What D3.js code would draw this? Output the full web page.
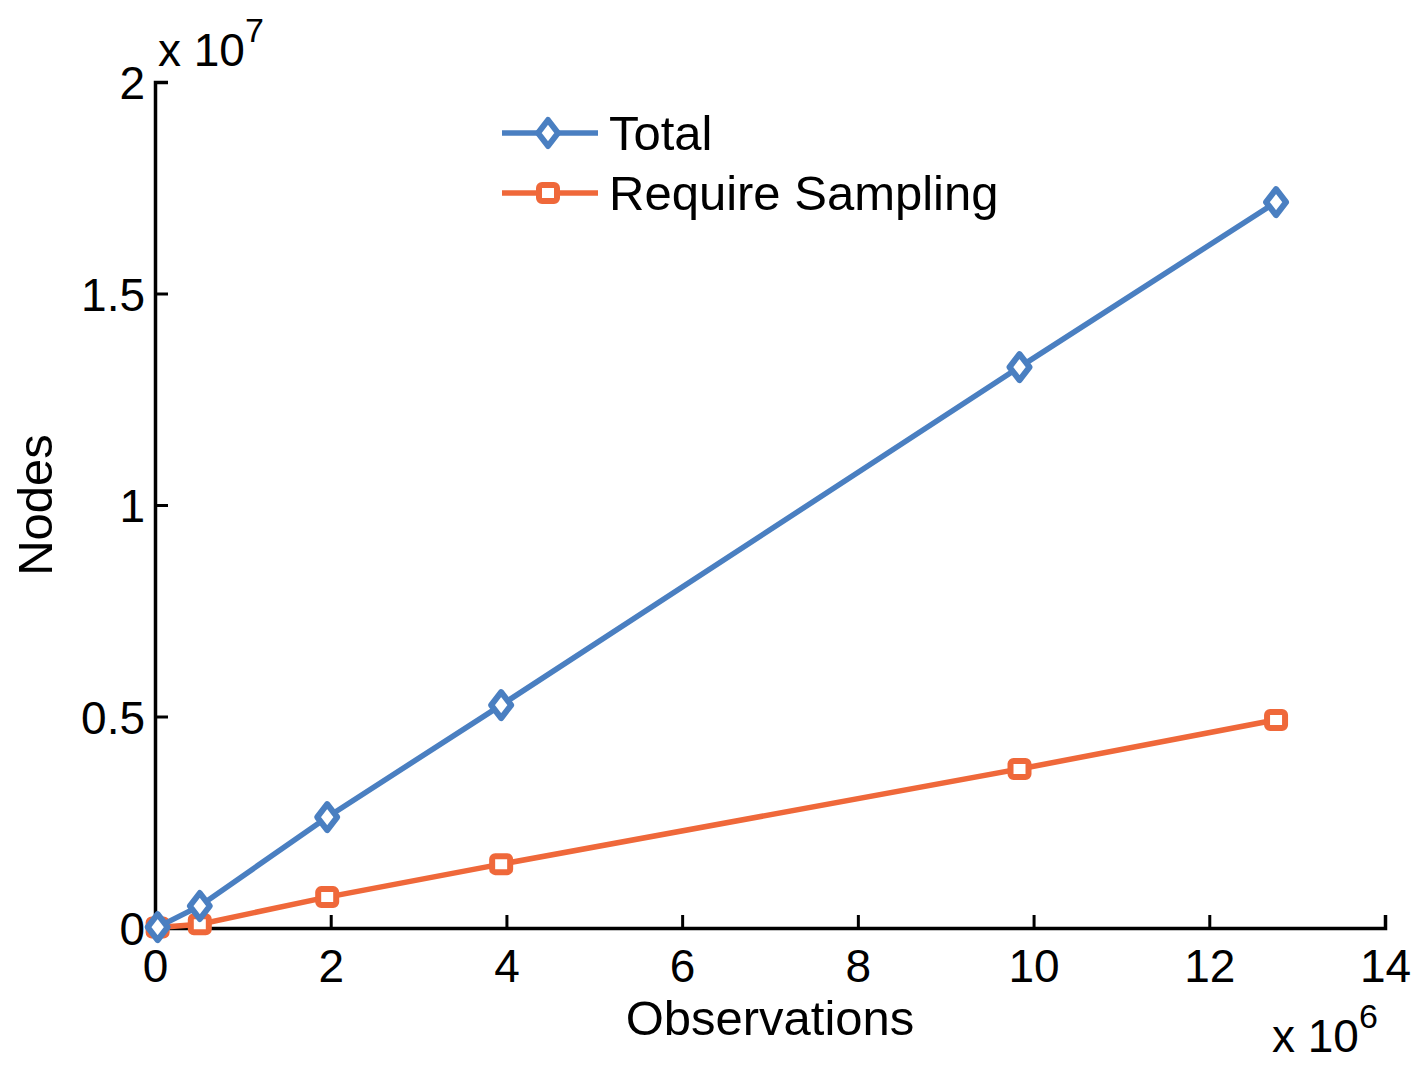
<!DOCTYPE html>
<html>
<head>
<meta charset="utf-8">
<script src="https://cdn.jsdelivr.net/npm/d3@7"></script>
<style>
body { margin: 0; background: #fff; }
text { font-family: "Liberation Sans", Arial, sans-serif; fill: #000; }
</style>
</head>
<body>
<script>
// observations (x 10^6) and node counts (x 10^7)
const observations = [0.03, 0.51, 1.96, 3.94, 9.84, 12.76];
const total = [0.002, 0.052, 0.262, 0.527, 1.326, 1.716];
const requireSampling = [0.001, 0.009, 0.073, 0.151, 0.376, 0.492];
const xTicks = [0, 2, 4, 6, 8, 10, 12, 14];
const yTicks = [0, 0.5, 1, 1.5, 2];
const seriesNames = ["Total", "Require Sampling"];
const seriesColors = ["#4a7fc1", "#ef683a"];

const width = 1417, height = 1065;
const margin = {left: 155, right: 32, top: 82, bottom: 137};

let svg = d3.select("body").append("svg")
    .attr("width", width)
    .attr("height", height);

let x = d3.scaleLinear().domain([0, 14]).range([margin.left, width - margin.right]);
let y = d3.scaleLinear().domain([0, 2]).range([height - margin.bottom, margin.top]);

// axes: ticks point inward, like the original
let xAxis = svg.append("g")
    .attr("transform", `translate(0,${y(0)})`)
    .call(d3.axisBottom(x).tickValues(xTicks).tickSize(-13).tickPadding(21).tickFormat(d3.format("d")));
let yAxis = svg.append("g")
    .attr("transform", `translate(${x(0)},0)`)
    .call(d3.axisLeft(y).tickValues(yTicks).tickSize(-13).tickPadding(10).tickFormat(d => d));

[xAxis, yAxis].forEach(a => {
    a.select(".domain").attr("stroke", "#000").attr("stroke-width", 3.5);
    a.selectAll(".tick line").attr("stroke", "#000").attr("stroke-width", 3);
    a.selectAll(".tick text").style("font-size", "46px").attr("fill", "#000");
});
xAxis.selectAll(".tick text").attr("dy", "0.71em");
yAxis.selectAll(".tick text").attr("dy", "0.36em");

// axis labels
svg.append("text")
    .attr("x", 770).attr("y", 1035)
    .attr("text-anchor", "middle")
    .style("font-size", "49px")
    .text("Observations");
svg.append("text")
    .attr("transform", "translate(52,505) rotate(-90)")
    .attr("text-anchor", "middle")
    .style("font-size", "49px")
    .text("Nodes");

// exponent labels
function exponent(xp, yp, p) {
    let t = svg.append("text").attr("x", xp).attr("y", yp).style("font-size", "46px");
    t.append("tspan").text("x 10");
    t.append("tspan").attr("dy", -24).style("font-size", "34px").text(p);
}
exponent(158, 66, "7");
exponent(1272, 1052, "6");

// markers
function diamond(g, cx, cy, color) {
    g.append("path")
        .attr("d", `M${cx},${cy - 13}L${cx + 10},${cy}L${cx},${cy + 13}L${cx - 10},${cy}Z`)
        .attr("fill", "#fff").attr("stroke", color).attr("stroke-width", 6)
        .attr("stroke-linejoin", "round");
}
function square(g, cx, cy, color) {
    g.append("rect")
        .attr("x", cx - 9).attr("y", cy - 8).attr("width", 18).attr("height", 16)
        .attr("rx", 3)
        .attr("fill", "#fff").attr("stroke", color).attr("stroke-width", 6);
}
const markers = [diamond, square];

let line = d3.line()
    .x(d => x(d[0]))
    .y(d => y(d[1]));

let plot = svg.append("g");
[requireSampling, total].forEach(vals => {
    let i = vals === total ? 0 : 1;
    let pts = observations.map((o, k) => [o, vals[k]]);
    let g = plot.append("g");
    g.append("path")
        .datum(pts)
        .attr("d", line)
        .attr("fill", "none")
        .attr("stroke", seriesColors[i])
        .attr("stroke-width", 5.5);
    pts.forEach(p => markers[i](g, x(p[0]), y(p[1]), seriesColors[i]));
});

// legend
let legend = svg.append("g");
seriesNames.forEach((name, i) => {
    let ly = 133 + i * 60;
    legend.append("line")
        .attr("x1", 502).attr("x2", 598).attr("y1", ly).attr("y2", ly)
        .attr("stroke", seriesColors[i]).attr("stroke-width", 5.5);
    markers[i](legend, 548, ly, seriesColors[i]);
    legend.append("text")
        .attr("x", 609).attr("y", ly + 17)
        .style("font-size", "49px")
        .text(name);
});
</script>
</body>
</html>
